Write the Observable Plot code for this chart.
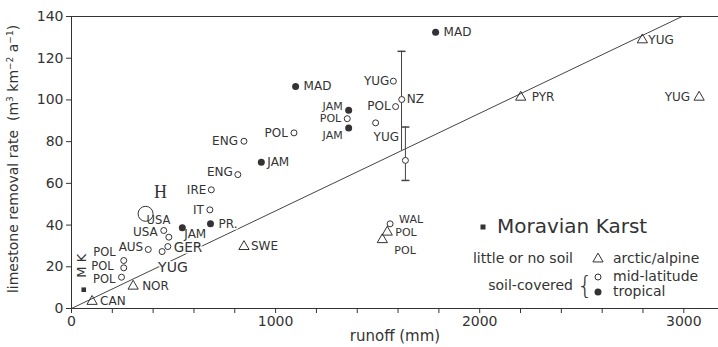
<!DOCTYPE html>
<html><head><meta charset="utf-8">
<script src="https://cdn.jsdelivr.net/npm/d3@7"></script>
<script src="https://cdn.jsdelivr.net/npm/@observablehq/plot@0.6"></script>
<style>
html,body{margin:0;padding:0;background:#fff;}
</style></head><body><div id="chart"></div>
<script>
// ---------------- data ----------------
// little or no soil: arctic/alpine (open triangles)
const arcticLabels = ["CAN","NOR","SWE","POL","POL","PYR","YUG","YUG"];
const arcticRunoff = [101, 302, 845, 1547, 1523, 2201, 2797, 3075];
const arcticRate   = [3.4, 10.7, 29.7, 36.6, 33.0, 101.3, 128.8, 101.3];

// soil-covered: mid-latitude (open circles)
const midLabels = ["POL","POL","ENG","ENG","YUG","NZ","","POL","YUG","IRE","IT","USA","","GER","YUG","AUS","POL","POL","POL","WAL"];
const midRunoff = [1351, 1090, 845, 815, 1577, 1618, 1636, 1588, 1490, 685, 678, 452, 477, 472, 444, 376, 256, 256, 245, 1561];
const midRate   = [91.0, 84.2, 80.2, 64.2, 109.0, 100.2, 71.0, 96.8, 89.0, 56.9, 47.3, 37.4, 34.2, 29.7, 27.3, 28.3, 23.0, 19.5, 15.0, 40.6];

// large mid-latitude circle
const bigLabels = ["USA"];
const bigRunoff = [363];
const bigRate   = [45.4];

// soil-covered: tropical (filled circles)
const tropLabels = ["MAD","JAM","JAM","JAM","MAD","JAM","PR."];
const tropRunoff = [1098, 1358, 1358, 930, 1784, 543, 681];
const tropRate   = [106.4, 95.0, 86.6, 70.1, 132.5, 38.7, 40.6];

// Moravian Karst
const mkLabels = ["M K"];
const mkRunoff = [60];
const mkRate   = [9];

// error bars (runoff, low, high)
const errRunoff = [1617, 1636];
const errLow    = [75.7, 61.4];
const errHigh   = [123.3, 87.0];
const capRunoff = [1617, 1636, 1636];
const capRate   = [123.3, 87.0, 61.4];

// regression line slope
const fitSlope = 0.0468;

const xTicks = d3.range(0, 3200, 200);
const yTicks = [0, 20, 40, 60, 80, 100, 120, 140];

const xTitle = "runoff (mm)";
const legendTitle = "Moravian Karst";
const groupLabels = ["little or no soil", "soil-covered"];
const legendItems = ["arctic/alpine", "mid-latitude", "tropical"];

// ---------------- layout (label placement: anchor, dx, dy, fontSize) ----------------
const arcticPlace = [["start",8,0],["start",9,0],["start",7,0],["start",8,0,11],["start",12,11,11],["start",11,0],["start",6,0],["end",-9,0]];
const midPlace = [["end",-6,0,11],["end",-6,0],["end",-6,0],["end",-5,-2],["end",-4,0],["start",5,0],null,["end",-5,0],["start",-2,14],["end",-5,0],["end",-6,0],["end",-6,2],null,["start",6,1,13.5],["start",-4,16,14],["end",-5,-2],["end",-8,-8,11.5],["end",-10,-2,11.5],["end",-6,2,11.5],["start",9,-4,11]];
const bigPlace = [["start",1,7,11.5]];
const tropPlace = [["start",8,0],["end",-6,-4,11],["end",-6,8,11],["start",6,0],["start",8,0],["start",2,6],["start",8,0]];

const ink = "#333";
const rows = (labels, xs, ys) => labels.map((l, i) => ({label: l, runoff: xs[i], rate: ys[i]}));
const arctic = rows(arcticLabels, arcticRunoff, arcticRate);
const mid = rows(midLabels, midRunoff, midRate);
const big = rows(bigLabels, bigRunoff, bigRate);
const trop = rows(tropLabels, tropRunoff, tropRate);
const mk = rows(mkLabels, mkRunoff, mkRate);
const errs = errRunoff.map((x, i) => ({runoff: x, lo: errLow[i], hi: errHigh[i]}));
const caps = capRunoff.map((x, i) => ({runoff: x, rate: capRate[i]}));
const fit = [0, 140 / fitSlope].map(x => ({runoff: x, rate: x * fitSlope}));

function labelMarks(data, place) {
  return data.map((d, i) => {
    const p = place[i];
    if (!p || !d.label) return null;
    return Plot.text([d], {x: "runoff", y: "rate", text: "label", textAnchor: p[0], dx: p[1], dy: p[2],
      fontSize: p[3] || 12, fill: ink, stroke: "white", strokeWidth: 3, paintOrder: "stroke"});
  }).filter(Boolean);
}
const capSymbol = {draw(ctx) { ctx.moveTo(-4, 0); ctx.lineTo(4, 0); }};

const chart = Plot.plot({
  width: 718, height: 347,
  marginLeft: 71, marginRight: 0, marginTop: 16, marginBottom: 39,
  x: {domain: [0, 3170]},
  y: {domain: [0, 140]},
  style: {fontFamily: "DejaVu Sans", color: ink, background: "white"},
  marks: [
    Plot.axisY({ticks: yTicks, tickSize: 5, tickPadding: 3, fontSize: 14, label: null}),
    Plot.axisX({ticks: xTicks, tickFormat: d => d % 1000 === 0 ? String(d) : "", tickSize: 5, tickPadding: 3, fontSize: 14, label: null}),
    Plot.ruleX([0], {stroke: ink}),
    Plot.ruleY([0, 140], {stroke: ink}),
    Plot.line(fit, {x: "runoff", y: "rate", stroke: "#444", strokeWidth: 1}),
    Plot.ruleX(errs, {x: "runoff", y1: "lo", y2: "hi", stroke: "#444"}),
    Plot.dot(caps, {x: "runoff", y: "rate", symbol: capSymbol, stroke: "#444", r: 3}),
    ...labelMarks(arctic, arcticPlace),
    ...labelMarks(mid, midPlace),
    ...labelMarks(big, bigPlace),
    ...labelMarks(trop, tropPlace),
    Plot.text(big, {x: "runoff", y: "rate", text: () => "H", dx: 15, dy: -22, fontFamily: "Liberation Serif", fontSize: 18, fill: ink}),
    Plot.text(mk, {x: "runoff", y: "rate", text: "label", rotate: -90, dx: -2, dy: -24, fontSize: 13, fill: ink}),
    Plot.dot(arctic, {x: "runoff", y: "rate", symbol: "triangle", r: 3.8, stroke: ink, fill: "none", strokeWidth: 1}),
    Plot.dot(mid, {x: "runoff", y: "rate", r: 3, stroke: ink, fill: "white", strokeWidth: 1}),
    Plot.dot(big, {x: "runoff", y: "rate", r: 7.5, stroke: ink, fill: "none", strokeWidth: 1}),
    Plot.dot(trop, {x: "runoff", y: "rate", r: 3.5, fill: ink}),
    Plot.dot(mk, {x: "runoff", y: "rate", symbol: "square", r: 2.6, fill: ink})
  ]
});
document.getElementById("chart").appendChild(chart);

// ---------------- titles and legend ----------------
const svg = d3.select(chart);
const yl = svg.append("text").attr("transform", "translate(18,159) rotate(-90)")
  .attr("text-anchor", "middle").attr("font-size", 14).attr("fill", ink).attr("font-family", "DejaVu Sans");
yl.append("tspan").text("limestone removal rate  (m");
yl.append("tspan").attr("dy", -5).attr("font-size", 9).text("3");
yl.append("tspan").attr("dy", 5).text(" km");
yl.append("tspan").attr("dy", -5).attr("font-size", 9).text("−2");
yl.append("tspan").attr("dy", 5).text(" a");
yl.append("tspan").attr("dy", -5).attr("font-size", 9).text("−1");
yl.append("tspan").attr("dy", 5).text(")");

svg.append("text").attr("x", 395).attr("y", 336).attr("dy", "0.35em").attr("text-anchor", "middle")
  .attr("font-size", 15).attr("fill", ink).attr("font-family", "DejaVu Sans").text(xTitle);

const lg = svg.append("g").attr("font-family", "DejaVu Sans").attr("fill", ink).attr("text-anchor", "start");
lg.append("rect").attr("x", 480.5).attr("y", 224.5).attr("width", 5).attr("height", 5);
lg.append("text").attr("x", 497).attr("y", 226).attr("dy", "0.35em").attr("font-size", 20).text(legendTitle);
lg.append("text").attr("x", 573).attr("y", 258).attr("dy", "0.35em").attr("text-anchor", "end").attr("font-size", 14).text(groupLabels[0]);
lg.append("text").attr("x", 573).attr("y", 285).attr("dy", "0.35em").attr("text-anchor", "end").attr("font-size", 14).text(groupLabels[1]);
lg.append("text").attr("x", 577).attr("y", 285).attr("dy", "0.35em").attr("font-size", 25).attr("font-weight", 200).text("{");
lg.append("path").attr("d", d3.symbol(d3.symbolTriangle, 45)()).attr("transform", "translate(598,259)").attr("fill", "none").attr("stroke", ink);
lg.append("circle").attr("cx", 598).attr("cy", 277).attr("r", 3).attr("fill", "none").attr("stroke", ink);
lg.append("circle").attr("cx", 598).attr("cy", 292).attr("r", 3.5).attr("fill", ink);
[258, 276, 291].forEach((y, i) => {
  lg.append("text").attr("x", 613).attr("y", y).attr("dy", "0.35em").attr("font-size", 14).text(legendItems[i]);
});
</script>
</body></html>
